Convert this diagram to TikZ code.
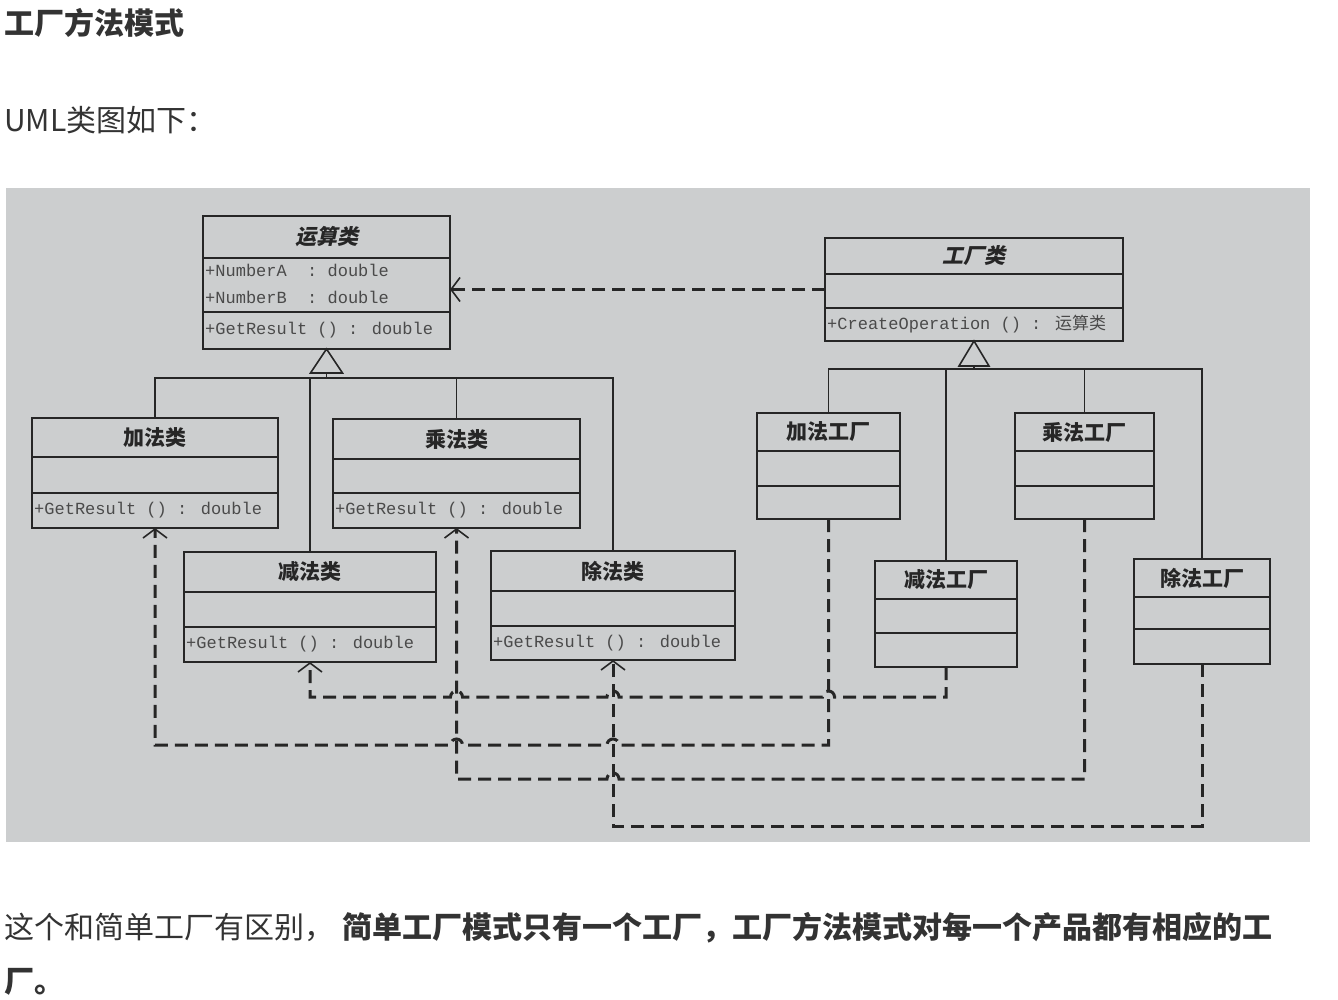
\documentclass[tikz,border=0pt]{standalone}
\usepackage{fontspec}
\usetikzlibrary{arrows.meta}
\newfontfamily\cjk{Noto Sans CJK SC}
\newfontfamily\cjkslant{Noto Sans CJK SC}[FakeSlant=0.22]
\newfontfamily\monofont{Liberation Mono}
\definecolor{pagetxt}{HTML}{333333}
\definecolor{photobg}{RGB}{204,206,207}
\definecolor{ink}{HTML}{262626}
\definecolor{inkgray}{HTML}{4A4A4A}

% name, left, top, right, line 1, line 2, bottom, title, method
\newcommand{\umlcls}[9]{%
  \node[umlbox,minimum width={#4-#2},minimum height={#7-#3}] (#1) at ({(#2+#4)/2},{(#3+#7)/2}) {};
  \draw[umlsep] (#2,#5) -- (#4,#5) (#2,#6) -- (#4,#6);
  \node[clsname] (#1-t) at ({(#2+#4)/2},{(#3+#5)/2}) {#8};
  \node[methtext] (#1-m) at (#2,{(#6+#7)/2}) {#9};
}

\begin{document}
\begin{tikzpicture}[x=1pt,y=-1pt,
  pagetext/.style={text=pagetxt,inner sep=0pt,anchor=west,font=\cjk\fontsize{30}{36}\selectfont},
  umlbox/.style={draw=ink,line width=1.8pt,inner sep=0pt,outer sep=0pt},
  umlsep/.style={ink,line width=1.8pt},
  clsname/.style={text=ink,inner sep=0pt,font=\cjk\bfseries\fontsize{21}{25}\selectfont},
  methtext/.style={text=inkgray,anchor=west,inner sep=2pt,font=\monofont\fontsize{17}{20}\selectfont},
  genline/.style={ink,line width=1.4pt},
  gentri/.style={draw=ink,fill=photobg,line width=1.6pt,line join=miter},
  depline/.style={ink,line width=3pt,dash pattern=on 13pt off 7pt,
    -{Straight Barb[length=9pt,width=24pt,line width=1.6pt]}}]
\fill[white] (0,0) rectangle (1338,1000);
\useasboundingbox (0,0) rectangle (1338,1000);

\node[pagetext,font=\cjk\bfseries\fontsize{30}{36}\selectfont] (title) at (4,23) {工厂方法模式};
\node[pagetext] (intro) at (4,120) {UML类图如下：};
\node[pagetext] (para1) at (4,928)
  {这个和简单工厂有区别，\hspace{8pt}{\bfseries 简单工厂模式只有一个工厂，工厂方法模式对每一个产品都有相应的工}};
\node[pagetext,font=\cjk\bfseries\fontsize{30}{36}\selectfont] (para2) at (4,982) {厂。};

\fill[photobg] (6,188) rectangle (1310,842);

\umlcls{op}{203}{216}{450}{258}{312}{349}{{\cjkslant 运算类}}{+GetResult () : double}
\node[methtext] (op-a) at (203,270) {+NumberA\ \ :\ double};
\node[methtext] (op-b) at (203,297) {+NumberB\ \ :\ double};
\umlcls{add}{32}{418}{278}{457}{493}{528}{加法类}{+GetResult () : double}
\umlcls{mul}{333}{419}{580}{459}{493}{528}{乘法类}{+GetResult () : double}
\umlcls{sub}{184}{552}{436}{592}{627}{662}{减法类}{+GetResult () : double}
\umlcls{div}{491}{551}{735}{591}{626}{660}{除法类}{+GetResult () : double}

\umlcls{fac}{825}{238}{1123}{274}{308}{341}{{\cjkslant 工厂类}}{+CreateOperation () : {\cjk 运算类}}
\umlcls{addf}{757}{413}{900}{451}{486}{519}{加法工厂}{}
\umlcls{subf}{875}{561}{1017}{599}{633}{667}{减法工厂}{}
\umlcls{mulf}{1015}{413}{1154}{451}{486}{519}{乘法工厂}{}
\umlcls{divf}{1134}{559}{1270}{597}{629}{664}{除法工厂}{}

\coordinate (opbus) at (0,378);
\coordinate (facbus) at (0,369);
\draw[genline] (add.north) |- (opbus -| div.north) -- (div.north);
\draw[genline] (sub.north) -- (sub.north |- opbus);
\draw[genline] (mul.north) -- (mul.north |- opbus);
\draw[genline] (op.south) ++(0,24) -- (op.south |- opbus);
\draw[gentri] (op.south) -- ++(-16,24) -- ++(32,0) -- cycle;

\draw[genline] (addf.north) |- (facbus -| divf.north) -- (divf.north);
\draw[genline] (subf.north) -- (subf.north |- facbus);
\draw[genline] (mulf.north) -- (mulf.north |- facbus);
\draw[genline] (fac.south) ++(0,25) -- (fac.south |- facbus);
\draw[gentri] (fac.south) -- ++(-15,25) -- ++(30,0) -- cycle;

\draw[depline] (fac.west) -- (fac.west -| op.east);

\coordinate (ysub) at (0,697);
\coordinate (yadd) at (0,745);
\coordinate (ymul) at (0,779);
\coordinate (ydiv) at (0,826);
\draw[depline] (subf.south) -- (subf.south |- ysub)
  -- ([xshift=6pt]addf.south |- ysub) arc[start angle=0,end angle=-180,radius=6]
  -- ([xshift=6pt]div.south |- ysub) arc[start angle=0,end angle=-180,radius=6]
  -- ([xshift=6pt]mul.south |- ysub) arc[start angle=0,end angle=-180,radius=6]
  -- (sub.south |- ysub) -- (sub.south);
\draw[depline] (addf.south) -- (addf.south |- yadd)
  -- ([xshift=6pt]div.south |- yadd) arc[start angle=0,end angle=-180,radius=6]
  -- ([xshift=6pt]mul.south |- yadd) arc[start angle=0,end angle=-180,radius=6]
  -- (add.south |- yadd) -- (add.south);
\draw[depline] (mulf.south) -- (mulf.south |- ymul)
  -- ([xshift=6pt]div.south |- ymul) arc[start angle=0,end angle=-180,radius=6]
  -- (mul.south |- ymul) -- (mul.south);
\draw[depline] (divf.south) -- (divf.south |- ydiv) -- (div.south |- ydiv) -- (div.south);
\end{tikzpicture}
\end{document}
